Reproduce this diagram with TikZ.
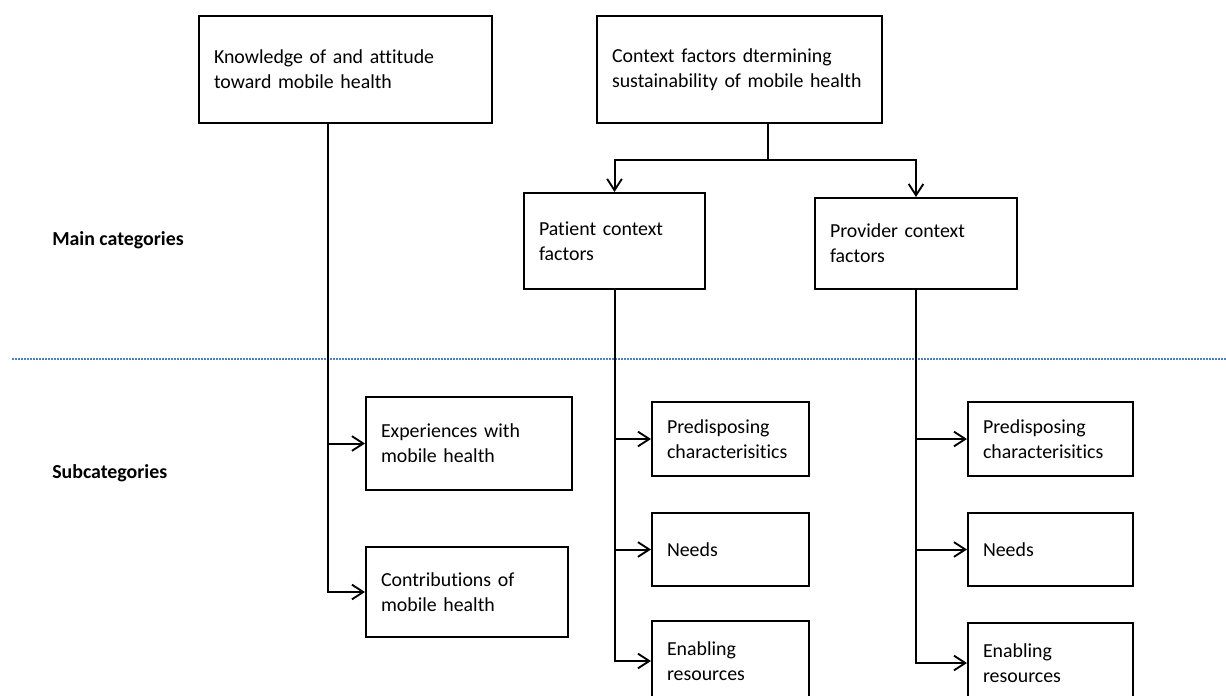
\documentclass[tikz,border=0pt]{standalone}
\usepackage{fontspec}
\setmainfont{Carlito}[Ligatures=NoCommon]
\usepackage{xcolor}
\usetikzlibrary{arrows.meta,positioning}
\definecolor{sepblue}{RGB}{79,129,189}

\begin{document}
\begin{tikzpicture}[x=0.75pt, y=-0.75pt,
    font=\fontsize{14.9pt}{18.75pt}\selectfont,
    >={Straight Barb[length=8.5pt,width=11pt,line width=1.4pt]},
    box/.style={draw, line width=1.5pt, anchor=north west, align=left,
        inner xsep=11.25pt, inner ysep=0pt},
    link/.style={line width=1.5pt},
    sepline/.style={sepblue, line width=0.8pt, dash pattern=on 1.5pt off 0.75pt},
    lbl/.style={anchor=west, inner sep=0pt, font=\fontsize{14.9pt}{18.75pt}\selectfont\bfseries}]
    \useasboundingbox (0,0) rectangle (1226,695);
    \clip (0,0) rectangle (1226,695);

    % row labels and separator
    \node[lbl] (maincat) at (52,240) {Main categories};
    \node[lbl] (subcat) at (52,473) {Subcategories};
    \draw[sepline] (12,359) -- (1226,359);

    % main categories
    \node[box, text width=197.25pt, minimum height=80.25pt] (know) at (198,15)
        {Knowledge of and attitude\\toward mobile health};
    \node[box, text width=191.25pt, minimum height=80.25pt] (ctx) at (596,15)
        {Context factors dtermining\\sustainability of mobile health};
    \node[box, text width=113.25pt, minimum height=72pt] (patient) at (523,192)
        {Patient context\\factors};
    \node[box, text width=129pt, minimum height=68.25pt] (provider) at (814,197)
        {Provider context\\factors};

    % subcategories
    \node[box, text width=132pt, minimum height=69.75pt] (exp) at (365,396)
        {Experiences with\\mobile health};
    \node[box, text width=129pt, minimum height=67.5pt] (contrib) at (365,546)
        {Contributions of\\mobile health};
    \node[box, text width=95.25pt, minimum height=55.5pt] (ppred) at (651,401)
        {Predisposing\\characterisitics};
    \node[box, text width=95.25pt, minimum height=54.75pt] (pneeds) at (651,512)
        {Needs};
    \node[box, text width=95.25pt, minimum height=60pt] (penab) at (651,620)
        {Enabling\\resources};
    \node[box, text width=101.25pt, minimum height=55.5pt] (vpred) at (967,401)
        {Predisposing\\characterisitics};
    \node[box, text width=101.25pt, minimum height=54.75pt] (vneeds) at (967,512)
        {Needs};
    \node[box, text width=101.25pt, minimum height=60pt] (venab) at (967,622)
        {Enabling\\resources};

    % trunks
    \coordinate (ktrunk) at (328,0);
    \coordinate (split) at (768,160);
    \draw[link, ->] (know.south -| ktrunk) |- (contrib.west);
    \draw[link, ->] (ktrunk |- exp.west) -- (exp.west);

    \draw[link] (ctx.south -| split) -- (split);
    \draw[link, ->] (split) -| (patient.north);
    \draw[link, ->] (split) -| (provider.north);

    \draw[link, ->] (patient.south) |- (penab.west);
    \draw[link, ->] (patient.south |- ppred.west) -- (ppred.west);
    \draw[link, ->] (patient.south |- pneeds.west) -- (pneeds.west);

    \draw[link, ->] (provider.south) |- (venab.west);
    \draw[link, ->] (provider.south |- vpred.west) -- (vpred.west);
    \draw[link, ->] (provider.south |- vneeds.west) -- (vneeds.west);
\end{tikzpicture}
\end{document}
